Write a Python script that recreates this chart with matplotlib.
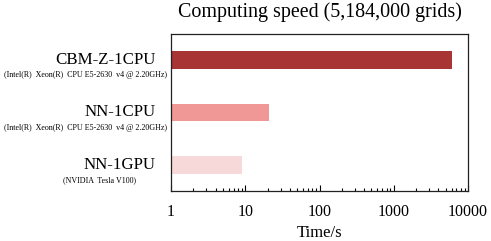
import matplotlib.pyplot as plt
from matplotlib.ticker import LogLocator, NullFormatter, FixedLocator

plt.rcParams['font.family'] = ['Liberation Serif', 'DejaVu Serif']

labels = ["NN-1GPU", "NN-1CPU", "CBM-Z-1CPU"]
hardware = ["(NVIDIA  Tesla V100)",
            "(Intel(R)  Xeon(R)  CPU E5-2630  v4 @ 2.20GHz)",
            "(Intel(R)  Xeon(R)  CPU E5-2630  v4 @ 2.20GHz)"]
times = [8, 20, 6000]
colors = ["#f8d9d9", "#ef9896", "#a83434"]
xticks = [1, 10, 100, 1000, 10000]

fig = plt.figure(figsize=(4.91, 2.41), dpi=100)
ax = fig.add_axes([171 / 491, 1 - 191 / 241, 297 / 491, 157 / 241])

ypos = list(range(len(labels)))
ax.barh(ypos, times, left=1, height=0.34, color=colors)
ax.set_xscale("log")
ax.set_xlim(1, 10000)
ax.set_ylim(-0.5, 2.5)

ax.xaxis.set_major_locator(FixedLocator(xticks))
ax.set_xticklabels([str(t) for t in xticks])
ax.xaxis.set_minor_locator(LogLocator(base=10, subs=range(2, 10)))
ax.xaxis.set_minor_formatter(NullFormatter())
ax.tick_params(axis="x", which="major", direction="in", length=4, width=0.8,
               pad=9, labelsize=11.5)
ax.tick_params(axis="x", which="minor", direction="in", length=2.5, width=0.8)
ax.set_yticks([])
for s in ax.spines.values():
    s.set_linewidth(0.9)
    s.set_color("#222222")

# category labels + hardware notes
sub_dx = [-25, -3, -3]
for y, lab, hw, dx in zip(ypos, labels, hardware, sub_dx):
    ax.annotate(lab, xy=(0, y), xycoords=("axes fraction", "data"),
                xytext=(-11, 0), textcoords="offset points",
                ha="right", va="center", fontsize=12.2)
    ax.annotate(hw, xy=(0, y), xycoords=("axes fraction", "data"),
                xytext=(dx, -11), textcoords="offset points",
                ha="right", va="center", fontsize=5.8)

ax.set_title("Computing speed (5,184,000 grids)", fontsize=14.4, pad=12)
ax.set_xlabel("Time/s", fontsize=12, labelpad=4)

fig.savefig("out.png", dpi=100)
